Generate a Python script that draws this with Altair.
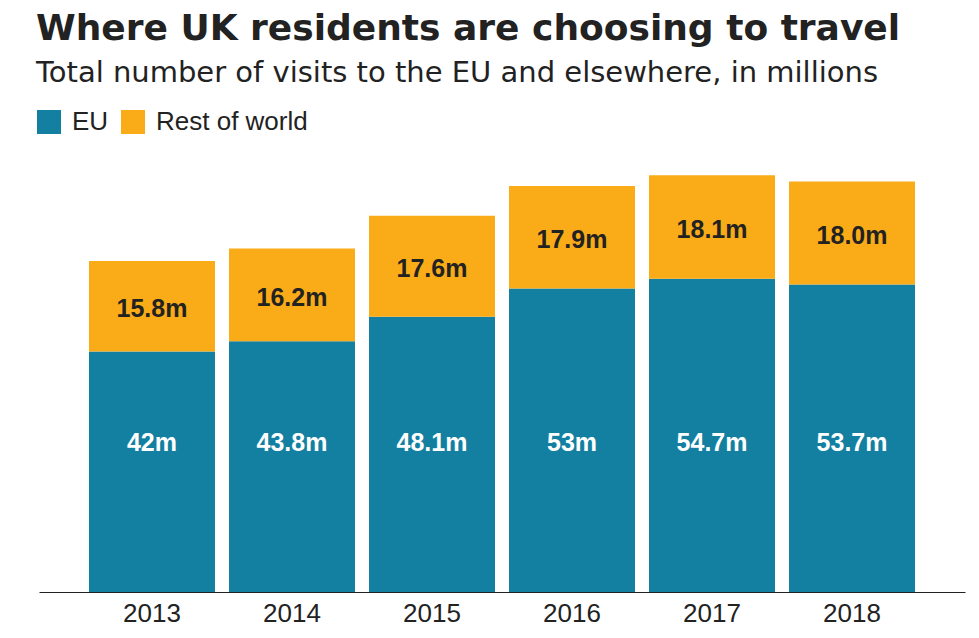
import altair as alt
import pandas as pd

years = ["2013", "2014", "2015", "2016", "2017", "2018"]
eu = [42, 43.8, 48.1, 53, 54.7, 53.7]
rest_of_world = [15.8, 16.2, 17.6, 17.9, 18.1, 18.0]
regions = ["EU", "Rest of world"]
colors = ["#1380A1", "#FAAB18"]

rows = []
for y, a, b in zip(years, eu, rest_of_world):
    rows.append({"year": y, "region": "EU", "value": a, "order": 0})
    rows.append({"year": y, "region": "Rest of world", "value": b, "order": 1})
df = pd.DataFrame(rows)

lab = pd.DataFrame({
    "year": years,
    "eu": eu,
    "row": rest_of_world,
})
lab["eu_label"] = [f"{v:g}m" for v in eu]
lab["row_label"] = [f"{v:.1f}m" for v in rest_of_world]
lab["row_mid"] = lab["eu"] + lab["row"] / 2

xenc = alt.X("year:N", title=None,
             scale=alt.Scale(paddingInner=0.1, paddingOuter=0.357))

bars = alt.Chart(df).mark_bar(strokeWidth=0).encode(
    x=xenc,
    y=alt.Y("value:Q", stack="zero", axis=None,
            scale=alt.Scale(domain=[0, 80], nice=False, zero=True)),
    color=alt.Color("region:N",
                    scale=alt.Scale(domain=regions, range=colors),
                    legend=alt.Legend(
                        title=None, orient="none", legendX=-3, legendY=-25,
                        direction="horizontal", symbolType="square",
                        symbolSize=576, symbolStrokeWidth=0, symbolOpacity=1,
                        labelFontSize=26, labelFont="Liberation Sans",
                        labelColor="#222222", labelOffset=10,
                        columnPadding=11, padding=0)),
    order=alt.Order("order:Q"),
)

eu_text = alt.Chart(lab).mark_text(
    font="Liberation Sans", fontWeight="bold", fontSize=25,
    color="white", baseline="middle", align="center"
).encode(
    x=xenc,
    y=alt.YDatum(26, axis=None),
    text="eu_label:N",
)

row_text = alt.Chart(lab).mark_text(
    font="Liberation Sans", fontWeight="bold", fontSize=25,
    color="#222222", baseline="middle", align="center", dy=3
).encode(
    x=xenc,
    y=alt.Y("row_mid:Q", axis=None),
    text="row_label:N",
)

chart = alt.layer(bars, eu_text, row_text).properties(
    width=926,
    height=458,
    autosize=alt.AutoSizeParams(type="none"),
    padding={"left": 31, "top": 126, "right": 5, "bottom": 40},
    title=alt.TitleParams(
        text="Where UK residents are choosing to travel",
        subtitle="Total number of visits to the EU and elsewhere, in millions",
        anchor="start", frame="group", orient="top",
        font="DejaVu Sans", fontSize=36, fontWeight="bold", color="#222222",
        subtitleFont="DejaVu Sans", subtitleFontSize=29,
        subtitleColor="#222222", subtitlePadding=11, offset=20, dx=-3,
    ),
).configure_view(stroke=None).configure_axisX(
    labelFontSize=26, labelFont="Liberation Sans", labelColor="#222222",
    labelAngle=0, ticks=False, tickSize=0, labelPadding=8,
    domainColor="#222222", domainWidth=1, grid=False,
)

chart.save("out.html", embed_options={"renderer": "svg", "actions": False})
